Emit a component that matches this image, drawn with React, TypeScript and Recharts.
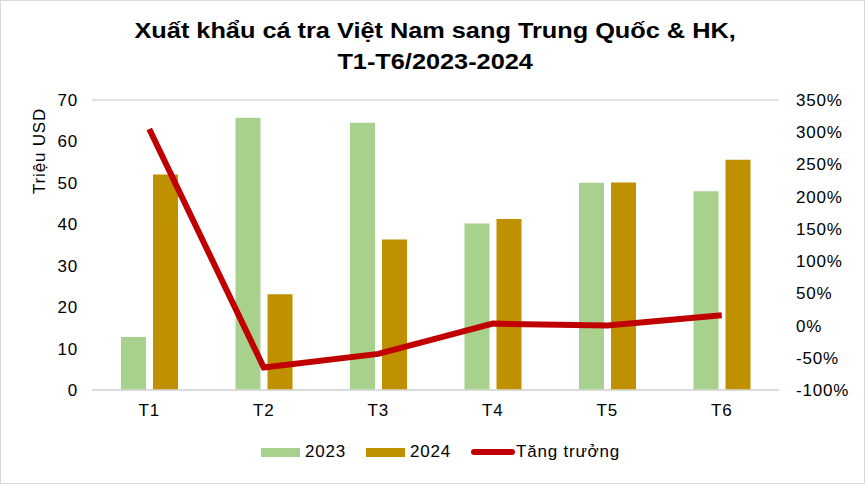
import React from 'react';
import {
  Bar,
  CartesianGrid,
  ComposedChart,
  Legend,
  Line,
  XAxis,
  YAxis,
} from 'recharts';

const months = ['T1', 'T2', 'T3', 'T4', 'T5', 'T6'];
const exports2023 = [12.8, 65.7, 64.5, 40.2, 50.0, 48.0];
const exports2024 = [52.0, 23.1, 36.3, 41.3, 50.1, 55.6];
const growth = [3.05, -0.65, -0.44, 0.03, 0.0, 0.16];
const leftTicks = [0, 10, 20, 30, 40, 50, 60, 70];
const rightTicks = [-1, -0.5, 0, 0.5, 1, 1.5, 2, 2.5, 3, 3.5];

const data = months.map((m, i) => ({
  month: m,
  y2023: exports2023[i],
  y2024: exports2024[i],
  growth: growth[i],
}));

const FONT = '"Liberation Sans", Arial, sans-serif';
const GREEN = '#A9D18E';
const GOLD = '#BF9000';
const RED = '#C00000';
const tickStyle = { fill: '#000', fontSize: 17, fontFamily: FONT, letterSpacing: 0.8 };

function LegendContent() {
  const items = [
    { label: '2023', color: GREEN, kind: 'bar' },
    { label: '2024', color: GOLD, kind: 'bar' },
    { label: 'Tăng trưởng', color: RED, kind: 'line' },
  ];
  return (
    <div
      style={{
        display: 'flex',
        justifyContent: 'center',
        gap: 20,
        marginTop: 12,
        marginLeft: 6,
        fontFamily: FONT,
        fontSize: 17,
        letterSpacing: 0.8,
        color: '#000',
      }}
    >
      {items.map((it) => (
        <div key={it.label} style={{ display: 'flex', alignItems: 'center' }}>
          <span
            style={{
              display: 'inline-block',
              width: it.kind === 'bar' ? 39 : 44,
              height: it.kind === 'bar' ? 9 : 6,
              borderRadius: it.kind === 'line' ? 3 : 0,
              background: it.color,
              marginRight: it.kind === 'bar' ? 5 : 1,
            }}
          />
          <span>{it.label}</span>
        </div>
      ))}
    </div>
  );
}

export default function App() {
  return (
    <div style={{ position: 'relative', width: 865, height: 484, background: '#fff', fontFamily: FONT }}>
      <style>{'body{margin:0}'}</style>
      <div
        style={{
          position: 'absolute',
          left: 0,
          top: 0,
          width: 865,
          height: 484,
          boxSizing: 'border-box',
          border: '1px solid #d9d9d9',
          pointerEvents: 'none',
          zIndex: 2,
        }}
      />
      <div
        style={{
          position: 'absolute',
          top: 15,
          left: 3,
          width: 865,
          textAlign: 'center',
          fontWeight: 'bold',
          fontSize: 22,
          lineHeight: '31px',
          color: '#000',
          transform: 'scaleX(1.15)',
          transformOrigin: '435px 0',
        }}
      >
        Xuất khẩu cá tra Việt Nam sang Trung Quốc &amp; HK,
        <br />
        T1-T6/2023-2024
      </div>
      <ComposedChart
        width={865}
        height={484}
        data={data}
        margin={{ top: 100, right: 20, bottom: 16, left: 30 }}
        barSize={25}
        barGap={7}
      >
        <CartesianGrid vertical={false} stroke="#D9D9D9" strokeWidth={1.5} />
        <XAxis
          dataKey="month"
          axisLine={{ stroke: '#D9D9D9', strokeWidth: 1.5 }}
          tickLine={false}
          tick={tickStyle}
          tickMargin={8}
          height={40}
        />
        <YAxis
          yAxisId="left"
          domain={[0, 70]}
          ticks={leftTicks}
          axisLine={false}
          tickLine={false}
          width={62}
          tickMargin={8}
          tick={tickStyle}
          label={{
            value: 'Triệu USD',
            angle: -90,
            position: 'insideLeft',
            offset: 0,
            dx: 9,
            dy: -94,
            style: { fill: '#000', fontSize: 17, fontFamily: FONT, letterSpacing: 0.8, textAnchor: 'middle' },
          }}
        />
        <YAxis
          yAxisId="right"
          orientation="right"
          domain={[-1, 3.5]}
          ticks={rightTicks}
          axisLine={false}
          tickLine={false}
          width={66}
          tickMargin={11}
          tick={tickStyle}
          tickFormatter={(v) => `${Math.round(v * 100)}%`}
        />
        <Legend verticalAlign="bottom" height={38} content={<LegendContent />} />
        <Bar yAxisId="left" dataKey="y2023" name="2023" fill={GREEN} isAnimationActive={false} />
        <Bar yAxisId="left" dataKey="y2024" name="2024" fill={GOLD} isAnimationActive={false} />
        <Line
          yAxisId="right"
          type="linear"
          dataKey="growth"
          name="Tăng trưởng"
          stroke={RED}
          strokeWidth={6}
          dot={false}
          activeDot={false}
          isAnimationActive={false}
        />
      </ComposedChart>
    </div>
  );
}
